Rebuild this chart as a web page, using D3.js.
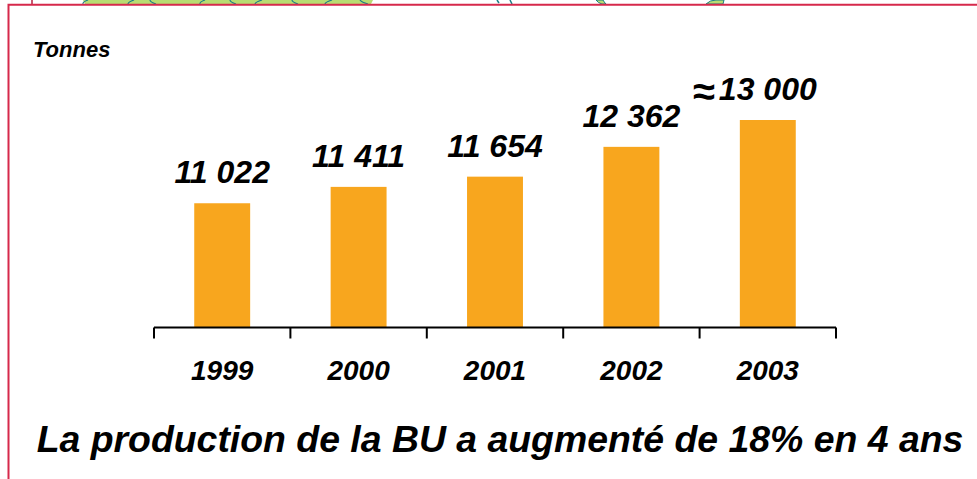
<!DOCTYPE html>
<html><head><meta charset="utf-8">
<script src="https://cdn.jsdelivr.net/npm/d3@7"></script>
<style>
html,body{margin:0;padding:0;background:#fff;}
svg{display:block;}
text{font-family:Arial,"Liberation Sans",sans-serif;font-weight:bold;font-style:italic;fill:#000;}
</style></head>
<body>
<svg id="chart" width="977" height="479"></svg>
<script>
const years = ["1999","2000","2001","2002","2003"];
const production = [11022, 11411, 11654, 12362, 13000];
const valueLabels = ["11 022","11 411","11 654","12 362","13 000"];
const approxFlags = [false,false,false,false,true];
const unitLabel = "Tonnes";
const caption = "La production de la BU a augmenté de 18% en 4 ans";
const axisFloor = 8070;

const svg = d3.select("#chart");
const W = 977, H = 479;
const left = 154, right = 836, baseY = 327.5, topY = 120;

// decorative header fragments (cut-off artwork) and red frame
const deco = svg.append("g");
deco.append("path").attr("d","M83,0 L373,0 L371,4 L85,4 Z").attr("fill","#b8dc72");
[[83,4,88,0],[128,4,134,0],[150,0,156,4],[200,4,205,0],[230,0,236,4],[255,4,262,0],[292,0,298,4],[325,4,332,0],[360,0,368,4]].forEach(s=>{
  deco.append("path").attr("d",`M${s[0]},${s[1]} Q${(s[0]+s[2])/2-3},${(s[1]+s[3])/2} ${s[2]},${s[3]}`)
    .attr("fill","none").attr("stroke","#1b7f86").attr("stroke-width",1.2);
});
deco.append("path").attr("d","M596,0 Q598,3 602,4 L606,4 Q604,2 603,0 Z").attr("fill","#b8dc72").attr("stroke","#1b7f86").attr("stroke-width",1);
deco.append("path").attr("d","M706,4 Q710,0 716,0 L724,0 L723,4 Z").attr("fill","#b8dc72").attr("stroke","#1b7f86").attr("stroke-width",1);
deco.append("path").attr("d","M497,0 L499,3").attr("stroke","#1b7f86").attr("stroke-width",1.5);
deco.append("path").attr("d","M510,0 L512,4").attr("stroke","#1b7f86").attr("stroke-width",1.5);
deco.append("line").attr("x1",32).attr("x2",32).attr("y1",0).attr("y2",4.5).attr("stroke","#b3203f").attr("stroke-width",1.5);

svg.append("path").attr("d",`M8.5,${H} L8.5,4.8 L${W},4.8`).attr("fill","none").attr("stroke","#d6294b").attr("stroke-width",2);

// scales
const x = d3.scaleBand().domain(years).range([left,right]).paddingInner(0.59).paddingOuter(0.295);
const y = d3.scaleLinear().domain([axisFloor, d3.max(production)]).range([baseY, topY]);

const data = years.map((yr,i)=>({year:yr, value:production[i], label:valueLabels[i], approx:approxFlags[i]}));

// bars
svg.append("g").selectAll("rect").data(data).join("rect")
  .attr("x",d=>x(d.year)).attr("width",x.bandwidth())
  .attr("y",d=>y(d.value)).attr("height",d=>baseY-y(d.value))
  .attr("fill","#f8a61e");

// axis with ticks on category boundaries
const boundaries = years.map(yr=>x(yr)-x.step()*x.paddingInner()/2).concat([right]);
const ax = svg.append("g");
ax.append("line").attr("x1",left).attr("x2",right).attr("y1",baseY).attr("y2",baseY).attr("stroke","#000").attr("stroke-width",2);
ax.selectAll("line.tk").data(boundaries).join("line").attr("class","tk")
  .attr("x1",d=>d).attr("x2",d=>d).attr("y1",baseY).attr("y2",baseY+11)
  .attr("stroke","#000").attr("stroke-width",2);
ax.selectAll("text").data(years).join("text")
  .attr("x",d=>x(d)+x.bandwidth()/2).attr("y",380)
  .attr("text-anchor","middle").attr("font-size",28).text(d=>d);

// value labels
const vl = svg.append("g");
vl.selectAll("text.v").data(data).join("text").attr("class","v")
  .attr("x",d=>x(d.year)+x.bandwidth()/2).attr("y",d=>y(d.value)-20)
  .attr("text-anchor","middle").attr("font-size",32).text(d=>d.label);
vl.selectAll("text.ap").data(data.filter(d=>d.approx)).join("text").attr("class","ap")
  .attr("x",d=>x(d.year)+x.bandwidth()/2-53).attr("y",d=>y(d.value)-15)
  .attr("text-anchor","end").attr("font-size",40).attr("font-style","normal").text("≈");

// unit label and caption
svg.append("text").attr("x",33).attr("y",57).attr("font-size",22).text(unitLabel);
svg.append("text").attr("x",500).attr("y",452).attr("text-anchor","middle").attr("font-size",37.4).text(caption);
</script>
</body></html>
